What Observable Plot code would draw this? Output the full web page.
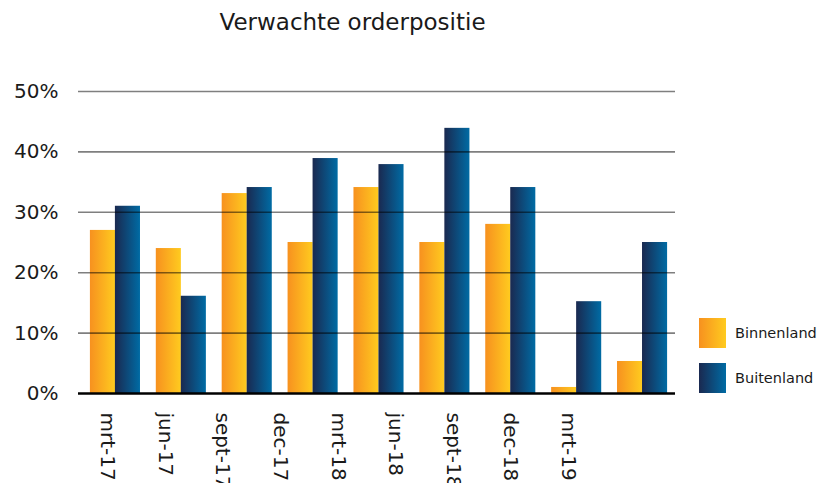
<!DOCTYPE html>
<html>
<head>
<meta charset="utf-8">
<script src="https://cdn.jsdelivr.net/npm/d3@7"></script>
<script src="https://cdn.jsdelivr.net/npm/@observablehq/plot@0.6"></script>
<style>
  html, body { margin: 0; padding: 0; background: #fff; }
  #wrap { position: relative; width: 820px; height: 483px; overflow: hidden; font-family: Verdana, "DejaVu Sans", sans-serif; color: #1a1a1a; }
  #wrap svg { position: absolute; left: 0; top: 0; }
  #title { position: absolute; left: 0; top: 11px; width: 705px; text-align: center; font-size: 23px; line-height: 23px; }
  .leg { position: absolute; left: 699px; display: flex; align-items: center; font-size: 14.5px; }
  .sw { width: 27px; height: 30px; margin-right: 9px; }
</style>
</head>
<body>
<div id="wrap">
  <div id="title">Verwachte orderpositie</div>
</div>
<script>
const categories = ["mrt-17", "jun-17", "sept-17", "dec-17", "mrt-18", "jun-18", "sept-18", "dec-18", "mrt-19"];
const binnenland = [27, 24, 33.1, 25, 34.1, 25, 28, 1, 5.3];
const buitenland = [31, 16.1, 34.1, 38.9, 37.9, 43.9, 34.1, 15.2, 25];
const series = ["Binnenland", "Buitenland"];
const yTicks = [0, 10, 20, 30, 40, 50];

const data = categories.map((c, i) => ({cat: c, bin: binnenland[i], buit: buitenland[i]}));

const wrap = document.getElementById("wrap");

const main = Plot.plot({
  width: 820,
  height: 483,
  marginLeft: 78,
  marginRight: 145,
  marginTop: 91,
  marginBottom: 90,
  style: {fontFamily: 'Verdana, "DejaVu Sans", sans-serif', fontSize: "20px", color: "#1a1a1a", background: "transparent"},
  x: {domain: categories, range: [82, 675], paddingInner: 0.24, paddingOuter: 0.12, round: false, axis: null},
  y: {domain: [0, 50]},
  marks: [
    Plot.barY(data, {x: "cat", y: "bin", fill: "url(#gOrange)", insetRight: 25}),
    Plot.barY(data, {x: "cat", y: "buit", fill: "url(#gBlue)", insetLeft: 25}),
    Plot.ruleY(yTicks.filter(d => d > 0), {stroke: "#000", strokeOpacity: 0.5, strokeWidth: 1.6}),
    Plot.ruleY([0], {stroke: "#000", strokeWidth: 2.5}),
    Plot.axisY({ticks: yTicks, tickFormat: d => d + "%", tickSize: 0, tickPadding: 20, label: null, fill: "#1a1a1a"})
  ]
});

const ns = "http://www.w3.org/2000/svg";
const defs = document.createElementNS(ns, "defs");
function grad(id, c1, c2) {
  const g = document.createElementNS(ns, "linearGradient");
  g.setAttribute("id", id);
  g.setAttribute("x1", "0"); g.setAttribute("x2", "1");
  g.setAttribute("y1", "0"); g.setAttribute("y2", "0");
  [[0, c1], [1, c2]].forEach(([o, c]) => {
    const s = document.createElementNS(ns, "stop");
    s.setAttribute("offset", o);
    s.setAttribute("stop-color", c);
    g.appendChild(s);
  });
  defs.appendChild(g);
}
grad("gOrange", "#F7911F", "#FFCB1F");
grad("gBlue", "#1A2950", "#006BA4");
main.insertBefore(defs, main.firstChild);
wrap.appendChild(main);

const labels = Plot.plot({
  width: 820,
  height: 483,
  marginLeft: 78,
  marginRight: 145,
  marginTop: 91,
  marginBottom: 90,
  style: {fontFamily: 'Verdana, "DejaVu Sans", sans-serif', fontSize: "20px", color: "#1a1a1a", background: "transparent"},
  x: {type: "point", domain: categories, range: [107, 568], padding: 0, round: false},
  marks: [
    Plot.axisX({tickRotate: 90, tickSize: 0, tickPadding: 19, label: null, fill: "#1a1a1a"})
  ]
});
labels.style.pointerEvents = "none";
wrap.appendChild(labels);

const legColors = [["#F7911F", "#FFCB1F"], ["#1A2950", "#006BA4"]];
const legTops = [318, 363];
series.forEach((s, i) => {
  const d = document.createElement("div");
  d.className = "leg";
  d.style.top = legTops[i] + "px";
  d.innerHTML = `<div class="sw" style="background:linear-gradient(to right, ${legColors[i][0]}, ${legColors[i][1]})"></div><span>${s}</span>`;
  wrap.appendChild(d);
});
</script>
</body>
</html>
